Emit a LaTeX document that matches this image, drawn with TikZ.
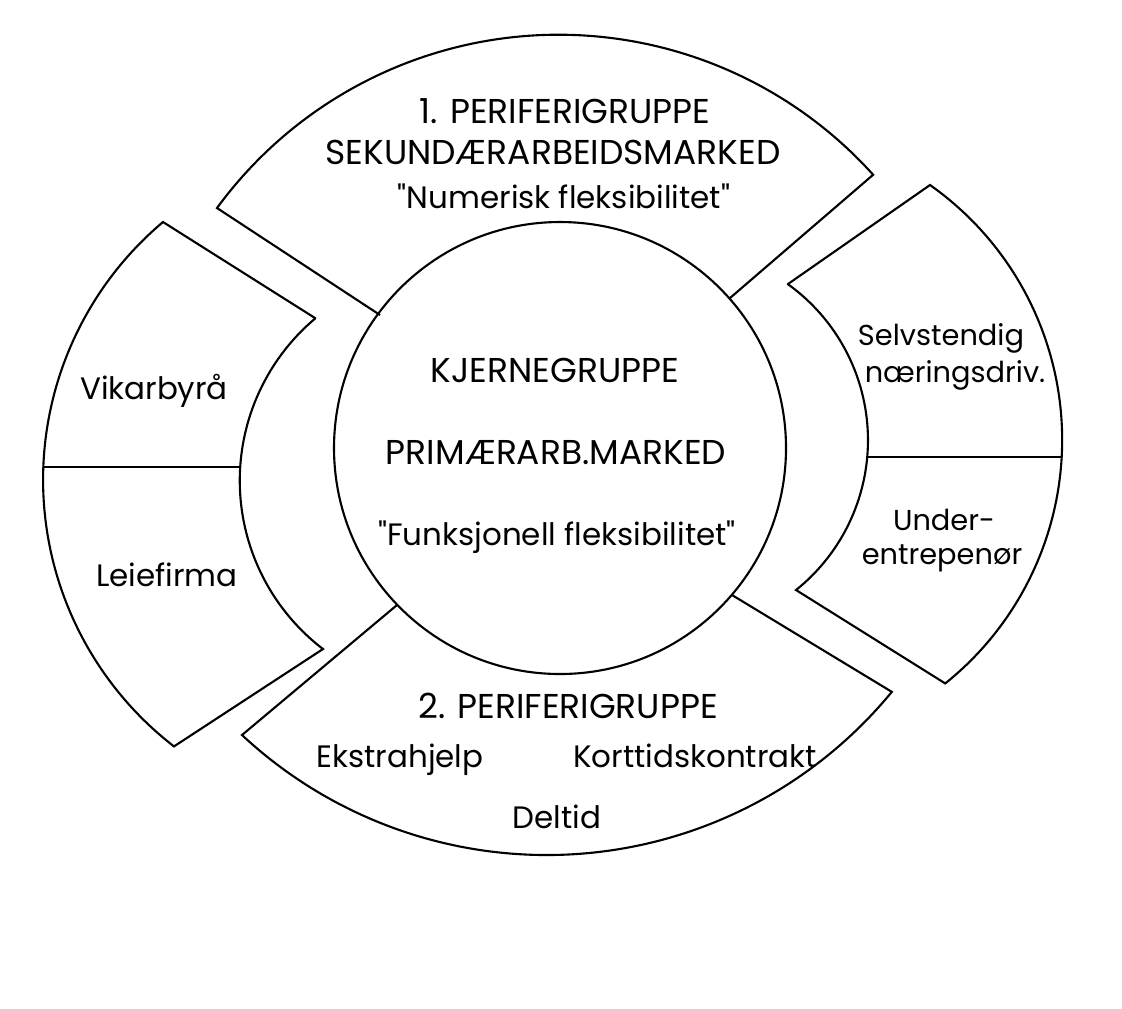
\documentclass[tikz,border=0pt]{standalone}
\usepackage{fontspec}
\newfontfamily\plainfont{Poppins}
\usetikzlibrary{positioning}

\begin{document}
\begin{tikzpicture}[x=0.01cm, y=-0.01cm, line width=0.6pt, line join=miter,
    captxt/.style={anchor=base, inner sep=0pt, font=\plainfont\fontsize{9.8}{12}\selectfont},
    lowtxt/.style={anchor=base, inner sep=0pt, font=\plainfont\fontsize{8.8}{11}\selectfont},
    sidetxt/.style={anchor=base, inner sep=0pt, font=\plainfont\fontsize{8.2}{10}\selectfont}]
    \useasboundingbox (0,0) rectangle (1122,1008);

    % Kjernegruppe
    \draw (560,448) circle[radius=226];
    \node[captxt] (kjerne) at (555,382) {KJERNEGRUPPE};
    \node[captxt] (primaer) at (556,464) {PRIMÆRARB.MARKED};
    \node[lowtxt] (funk) at (557,545) {"Funksjonell fleksibilitet"};

    % 1. periferigruppe
    \draw (380,315) -- (217,208) arc[start angle=216.2, end angle=318, radius=423.3] -- (730,298);
    \node[captxt] (peri1) at (565,123) {1. PERIFERIGRUPPE};
    \node[captxt] (sekund) at (553,164) {SEKUNDÆRARBEIDSMARKED};
    \node[lowtxt] (numerisk) at (564,208) {"Numerisk fleksibilitet"};

    % Venstre: Vikarbyra / Leiefirma
    \draw (315,318) -- (163,222) arc[start angle=229.9, end angle=127.7, radius=337]
        -- (323,649) arc[start angle=127.4, end angle=229.8, radius=212] -- cycle;
    \draw (43,467) -- (240,467);
    \node[lowtxt] (vikar) at (154,399) {Vikarbyrå};
    \node[lowtxt] (leie) at (167,586) {Leiefirma};

    % Hoyre: Selvstendig / Underentrepenor
    \draw (788,284) -- (930,185) arc[start angle=-54.8, end angle=51.3, radius=312]
        -- (796,590) arc[start angle=51.3, end angle=-54.3, radius=192] -- cycle;
    \draw (867,457) -- (1061,457);
    \node[sidetxt] (selv) at (941,345) {Selvstendig};
    \node[sidetxt] (naering) at (955,382) {næringsdriv.};
    \node[sidetxt] (under) at (944,530) {Under-};
    \node[sidetxt] (entre) at (942,564) {entrepenør};

    % 2. periferigruppe
    \draw (397,605) -- (242,735) arc[start angle=133, end angle=39.4, radius=446.7] -- (732,595);
    \node[captxt] (peri2) at (568,718) {2. PERIFERIGRUPPE};
    \node[lowtxt] (ekstra) at (400,767) {Ekstrahjelp};
    \node[lowtxt] (kort) at (695,767) {Korttidskontrakt};
    \node[lowtxt] (deltid) at (557,828) {Deltid};
\end{tikzpicture}
\end{document}
